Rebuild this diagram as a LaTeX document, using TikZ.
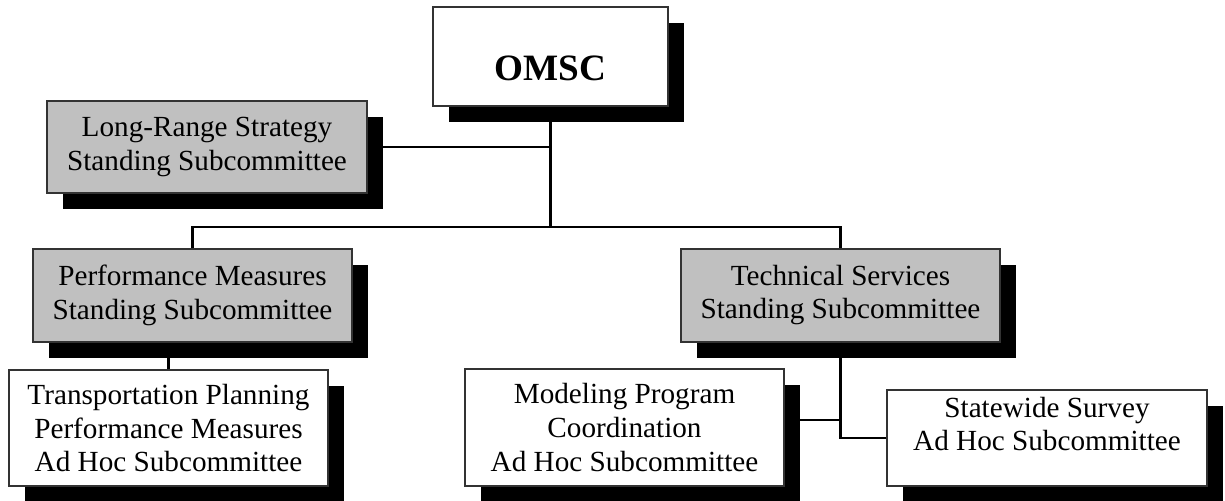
\documentclass[tikz,border=0pt]{standalone}
\usepackage{fontspec}
\setmainfont{Liberation Serif}
\usetikzlibrary{shadows}
\definecolor{boxgray}{RGB}{192,192,192}

\begin{document}
\begin{tikzpicture}[x=0.5pt, y=-0.5pt,
    unitbox/.style={draw=black!80, line width=1pt, align=center, inner sep=0pt,
      minimum width=159.5pt, font=\fontsize{14.6}{16.8}\selectfont,
      drop shadow={shadow xshift=8pt, shadow yshift=-8pt, fill=black, opacity=1}},
    standbox/.style={unitbox, fill=boxgray, minimum height=46.5pt},
    adhocbox/.style={unitbox, fill=white},
    link/.style={line width=1.2pt}]
    \useasboundingbox (0,0) rectangle (1225,500);
    \node[unitbox, fill=white, minimum width=117.5pt, minimum height=49.5pt, text height=24pt, text depth=0pt,
      font=\fontsize{18.6}{22}\selectfont\bfseries] (OMSC) at (550.5,56.5) {OMSC};
    \node[standbox, minimum width=160pt, minimum height=46pt] (LRS) at (207,147) {Long-Range Strategy\\Standing Subcommittee};
    \node[standbox] (Perf) at (192.5,295.5) {Performance Measures\\Standing Subcommittee};
    \node[standbox] (Tech) at (840.5,295) {Technical Services\\Standing Subcommittee};
    \node[adhocbox, minimum height=58pt] (Trans) at (168.5,428) {Transportation Planning\\Performance Measures\\Ad Hoc Subcommittee};
    \node[adhocbox, minimum height=58.5pt] (Model) at (624.5,427.5) {Modeling Program\\Coordination\\Ad Hoc Subcommittee};
    \node[adhocbox, minimum width=160pt, minimum height=48pt, text depth=14pt] (Stat) at (1047,438) {Statewide Survey\\Ad Hoc Subcommittee};
    % connectors
    \coordinate (bus) at (550.5,227);
    \coordinate (mlink) at ([yshift=3.75pt]Model.east);
    \draw[link] (OMSC.south) -- (bus);
    \draw[link] (LRS.east) -- (LRS.east -| bus);
    \draw[link] (Perf.north) |- (bus) -| (Tech.north);
    \draw[link] (Trans.north) -- (Trans.north |- Perf.south);
    \draw[link] (Tech.south) |- (Stat.west);
    \draw[link] (mlink) -- (mlink -| Tech.south);
\end{tikzpicture}
\end{document}
